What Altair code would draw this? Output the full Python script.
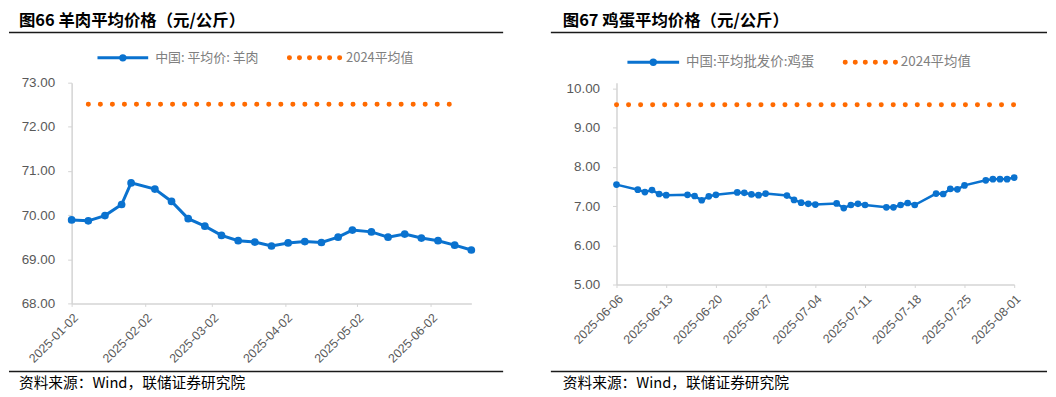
import altair as alt
import pandas as pd

BLUE = "#0a72cf"
ORANGE = "#ff6a00"
GRAY_TXT = "#595959"
LEG_TXT = "#808080"
AXIS_C = "#d4d4d4"

# ---------------- Left chart: 羊肉平均价格 ----------------
mutton_title = "图66 羊肉平均价格（元/公斤）"
mutton_name = "中国: 平均价: 羊肉"
mutton_dates = ["2025-01-02", "2025-01-09", "2025-01-16", "2025-01-23", "2025-01-27",
                "2025-02-06", "2025-02-13", "2025-02-20", "2025-02-27", "2025-03-06",
                "2025-03-13", "2025-03-20", "2025-03-27", "2025-04-03", "2025-04-10",
                "2025-04-17", "2025-04-24", "2025-04-30", "2025-05-08", "2025-05-15",
                "2025-05-22", "2025-05-29", "2025-06-05", "2025-06-12", "2025-06-19"]
mutton_values = [69.89, 69.87, 69.99, 70.24, 70.73, 70.59, 70.31, 69.92, 69.75, 69.54,
                 69.42, 69.39, 69.30, 69.37, 69.40, 69.38, 69.50, 69.66, 69.62, 69.50,
                 69.57, 69.48, 69.42, 69.32, 69.21]
mutton_avg_dates = ["2025-01-09", "2025-06-12"]
mutton_avg_value = 72.51
mutton_y_ticks = [68, 69, 70, 71, 72, 73]
mutton_y_domain = [68, 73]
mutton_x_ticks = ["2025-01-02", "2025-02-02", "2025-03-02", "2025-04-02", "2025-05-02", "2025-06-02"]
mutton_x_domain = ["2025-01-02", "2025-06-19"]

# ---------------- Right chart: 鸡蛋平均价格 ----------------
egg_title = "图67 鸡蛋平均价格（元/公斤）"
egg_name = "中国:平均批发价:鸡蛋"
egg_dates = ["2025-06-06",
             "2025-06-09", "2025-06-10", "2025-06-11", "2025-06-12", "2025-06-13",
             "2025-06-16", "2025-06-17", "2025-06-18", "2025-06-19", "2025-06-20",
             "2025-06-23", "2025-06-24", "2025-06-25", "2025-06-26", "2025-06-27",
             "2025-06-30", "2025-07-01", "2025-07-02", "2025-07-03", "2025-07-04",
             "2025-07-07", "2025-07-08", "2025-07-09", "2025-07-10", "2025-07-11",
             "2025-07-14", "2025-07-15", "2025-07-16", "2025-07-17", "2025-07-18",
             "2025-07-21", "2025-07-22", "2025-07-23", "2025-07-24", "2025-07-25",
             "2025-07-28", "2025-07-29", "2025-07-30", "2025-07-31", "2025-08-01"]
egg_values = [7.55,
              7.42, 7.36, 7.41, 7.31, 7.28,
              7.29, 7.26, 7.15, 7.25, 7.29,
              7.35, 7.34, 7.30, 7.28, 7.32,
              7.27, 7.16, 7.09, 7.06, 7.04,
              7.07, 6.95, 7.03, 7.06, 7.03,
              6.97, 6.97, 7.03, 7.08, 7.03,
              7.32, 7.31, 7.44, 7.43, 7.53,
              7.66, 7.69, 7.69, 7.69, 7.73]
egg_avg_dates = ["2025-06-06", "2025-08-01"]
egg_avg_value = 9.59
egg_y_ticks = [5, 6, 7, 8, 9, 10]
egg_y_domain = [5, 10.152]
egg_x_ticks = ["2025-06-06", "2025-06-13", "2025-06-20", "2025-06-27", "2025-07-04",
               "2025-07-11", "2025-07-18", "2025-07-25", "2025-08-01"]
egg_x_domain = ["2025-06-06", "2025-08-01"]

avg_name = "2024平均值"
source_text = "资料来源：Wind，联储证券研究院"


def dt(s):
    y, m, d = (int(p) for p in s.split("-"))
    return alt.DateTime(year=y, month=m, date=d, utc=True)


one = pd.DataFrame({"k": [0]})


def panel(dates, values, avg_dates, avg_value, y_ticks, y_domain, x_ticks, x_domain,
          title, name, w, h, lay, leg_font, line_w, pt_size):
    df = pd.DataFrame({"date": dates, "value": values})
    avg_df = pd.DataFrame({"date": avg_dates, "value": [avg_value] * len(avg_dates)})

    x_enc = alt.X(
        "date:T",
        scale=alt.Scale(type="utc", domain=[dt(x_domain[0]), dt(x_domain[1])], nice=False),
        axis=alt.Axis(values=[dt(t) for t in x_ticks],
                      labelExpr="utcFormat(datum.value, '%Y-%m-%d')",
                      labelAngle=-45, labelAlign="right", labelBaseline="middle",
                      labelFont="Liberation Sans", labelFontSize=12.5, labelColor=GRAY_TXT,
                      labelPadding=9, labelOffset=4, tickSize=3, tickColor=AXIS_C,
                      domainColor=AXIS_C, domainWidth=1.5, grid=False, title=None,
                      labelOverlap=False),
    )
    y_enc = alt.Y(
        "value:Q",
        scale=alt.Scale(domain=y_domain, nice=False, zero=False),
        axis=alt.Axis(values=y_ticks, format=".2f", labelFont="Liberation Sans",
                      labelFontSize=13.5, labelColor=GRAY_TXT, labelPadding=13,
                      tickSize=4, tickColor=AXIS_C, domainColor=AXIS_C, domainWidth=1.5,
                      grid=False, title=None, labelOverlap=False),
    )

    line = alt.Chart(df).mark_line(color=BLUE, strokeWidth=line_w).encode(x=x_enc, y=y_enc)
    pts = alt.Chart(df).mark_circle(color=BLUE, size=pt_size, opacity=1).encode(x="date:T", y="value:Q")
    avg = alt.Chart(avg_df).mark_line(color=ORANGE, strokeWidth=5, strokeCap="round",
                                      strokeDash=[0.1, 12]).encode(x="date:T", y="value:Q")

    base = alt.Chart(one)
    ttl = base.mark_text(text=title, align="left", baseline="top", font="Noto Sans CJK SC",
                         fontSize=16.5, fontWeight="bold", color="#000000").encode(
        x=alt.value(lay["title_x"]), y=alt.value(lay["title_y"]))
    sep_top = base.mark_rule(color="#1a1a1a", strokeWidth=1.5).encode(
        x=alt.value(lay["sep_x1"]), x2=alt.value(lay["sep_x2"]), y=alt.value(lay["sep_top"]))
    sep_bot = base.mark_rule(color="#1a1a1a", strokeWidth=1.5).encode(
        x=alt.value(lay["sep_x1"]), x2=alt.value(lay["sep_x2"]), y=alt.value(lay["sep_bot"]))
    src = base.mark_text(text=source_text, align="left", baseline="middle", font="Noto Sans CJK SC",
                         fontSize=14.8, color="#000000").encode(
        x=alt.value(lay["title_x"]), y=alt.value(lay["src_y"]))

    ly = lay["leg_y"]
    leg_line = base.mark_rule(color=BLUE, strokeWidth=3).encode(
        x=alt.value(lay["leg_b1"]), x2=alt.value(lay["leg_b2"]), y=alt.value(ly))
    leg_pt = base.mark_circle(color=BLUE, size=55, opacity=1).encode(
        x=alt.value((lay["leg_b1"] + lay["leg_b2"]) / 2), y=alt.value(ly))
    leg_t1 = base.mark_text(text=name, align="left", baseline="middle", font="Noto Sans CJK SC",
                            fontSize=leg_font, color=LEG_TXT).encode(
        x=alt.value(lay["leg_t1"]), y=alt.value(ly))
    leg_dots = base.mark_rule(color=ORANGE, strokeWidth=5, strokeCap="round",
                              strokeDash=[0.1, 10]).encode(
        x=alt.value(lay["leg_o1"]), x2=alt.value(lay["leg_o2"] + 1), y=alt.value(ly))
    leg_t2 = base.mark_text(text=avg_name, align="left", baseline="middle", font="Noto Sans CJK SC",
                            fontSize=leg_font, color=LEG_TXT).encode(
        x=alt.value(lay["leg_t2"]), y=alt.value(ly))

    return alt.layer(line, pts, avg, ttl, sep_top, sep_bot, src,
                     leg_line, leg_pt, leg_t1, leg_dots, leg_t2).properties(width=w, height=h)


# both plot areas share the same top edge (absolute y = 82)
left_layout = dict(title_x=-53, title_y=-70, sep_x1=-63, sep_x2=434, sep_top=-50.5,
                   sep_bot=290.5, src_y=303, leg_y=-25, leg_b1=26, leg_b2=77,
                   leg_t1=84, leg_o1=219, leg_o2=269, leg_t2=276)
right_layout = dict(title_x=-54, title_y=-70, sep_x1=-66, sep_x2=433, sep_top=-50.5,
                    sep_bot=290.5, src_y=303, leg_y=-20.5, leg_b1=11, leg_b2=63,
                    leg_t1=70, leg_o1=230, leg_o2=280, leg_t2=286)

left = panel(mutton_dates, mutton_values, mutton_avg_dates, mutton_avg_value,
             mutton_y_ticks, mutton_y_domain, mutton_x_ticks, mutton_x_domain,
             mutton_title, mutton_name, 402, 222, left_layout, 13, 3, 60)
right = panel(egg_dates, egg_values, egg_avg_dates, egg_avg_value,
              egg_y_ticks, egg_y_domain, egg_x_ticks, egg_x_domain,
              egg_title, egg_name, 400, 203, right_layout, 13.5, 2.5, 45)

chart = alt.concat(left, right, columns=2, spacing=46).properties(
    padding={"top": 4, "left": 0, "right": 0, "bottom": 0}
).configure_view(stroke=None)

chart.save("out.html", embed_options={"renderer": "svg", "actions": False})
